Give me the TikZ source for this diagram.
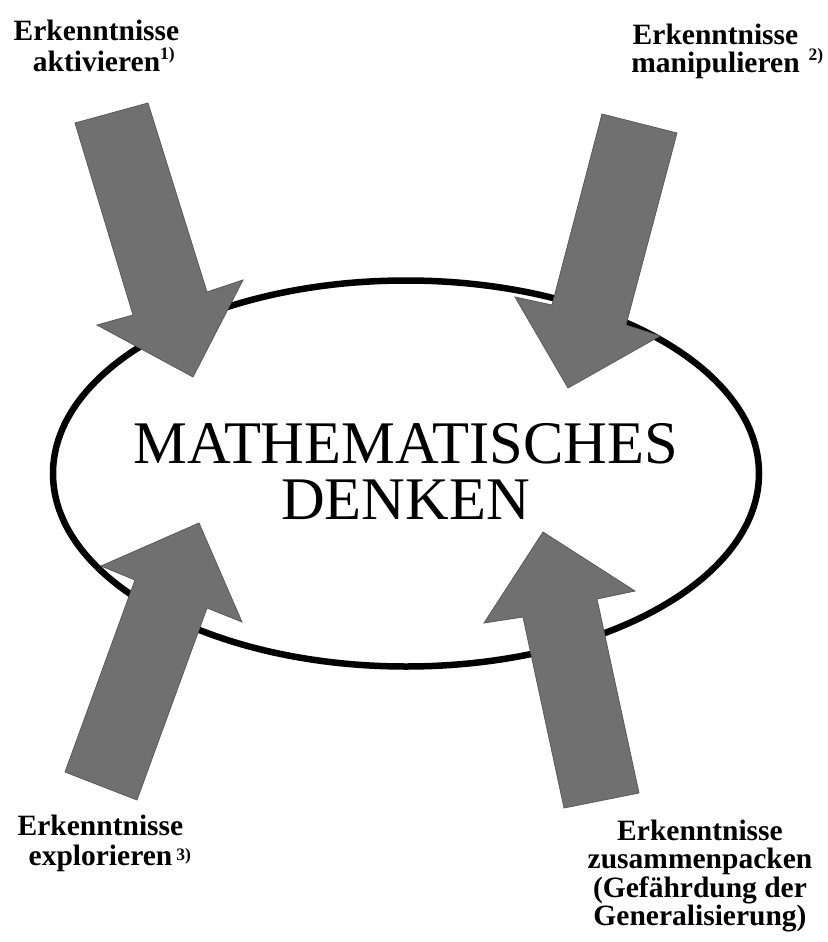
\documentclass[tikz,border=0pt]{standalone}
\usepackage{fontspec}
\setmainfont{Liberation Serif}
\usetikzlibrary{shapes.geometric}
\definecolor{arrowfill}{RGB}{112,112,112}
\definecolor{arrowline}{RGB}{90,90,90}
\tikzset{
  blockarrow/.style={fill=arrowfill, draw=arrowline, line width=0.8pt, line join=miter},
  lbl/.style={font=\fontsize{29.5}{#1}\selectfont\bfseries, align=center, inner sep=0pt, anchor=north},
  lbl/.default=29.5
}
\newcommand{\supmark}[3]{\rlap{\hspace{#1}\raisebox{#2}{\fontsize{17.5}{17.5}\selectfont\bfseries #3}}}
\begin{document}
\begin{tikzpicture}[x=1pt,y=-1pt]
\useasboundingbox (0,0) rectangle (827,942);
% ellipse
\node[ellipse, draw=black, line width=6.5pt, minimum width=706pt, minimum height=386pt, inner sep=0pt] (core) at (406,473.5) {};
\node[font=\fontsize{60.5}{56}\selectfont, align=center, inner sep=0pt] (title) at (405.5,471.2) {MATHEMATISCHES\\DENKEN};
% block arrows
\draw[blockarrow] (75,123) -- (148,103) -- (207,292) -- (243,280) -- (193,377) -- (97,325) -- (133,315) -- cycle;
\draw[blockarrow] (602,114) -- (677,133) -- (626,325) -- (660,336) -- (568,388) -- (515,297) -- (552,305) -- cycle;
\draw[blockarrow] (65,772) -- (137,800) -- (207,608) -- (242,622) -- (199,523) -- (101,566) -- (135,580) -- cycle;
\draw[blockarrow] (564,808) -- (639,793) -- (597,599) -- (635,591) -- (543,532) -- (484,623) -- (523,617) -- cycle;
% labels
\node[lbl=31] (l1) at (96.5,19.6) {Erkenntnisse\\aktivieren\supmark{0pt}{11.6pt}{1)}};
\node[lbl=28] (l2) at (715.5,23.6) {Erkenntnisse\\manipulieren\supmark{9pt}{12pt}{2)}};
\node[lbl=30] (l3) at (100.5,814.6) {Erkenntnisse\\explorieren\supmark{4pt}{5pt}{3)}};
\node[lbl=28.5] (l4) at (700,819.6) {Erkenntnisse\\zusammenpacken\\(Gefährdung der\\Generalisierung)};
\end{tikzpicture}
\end{document}
